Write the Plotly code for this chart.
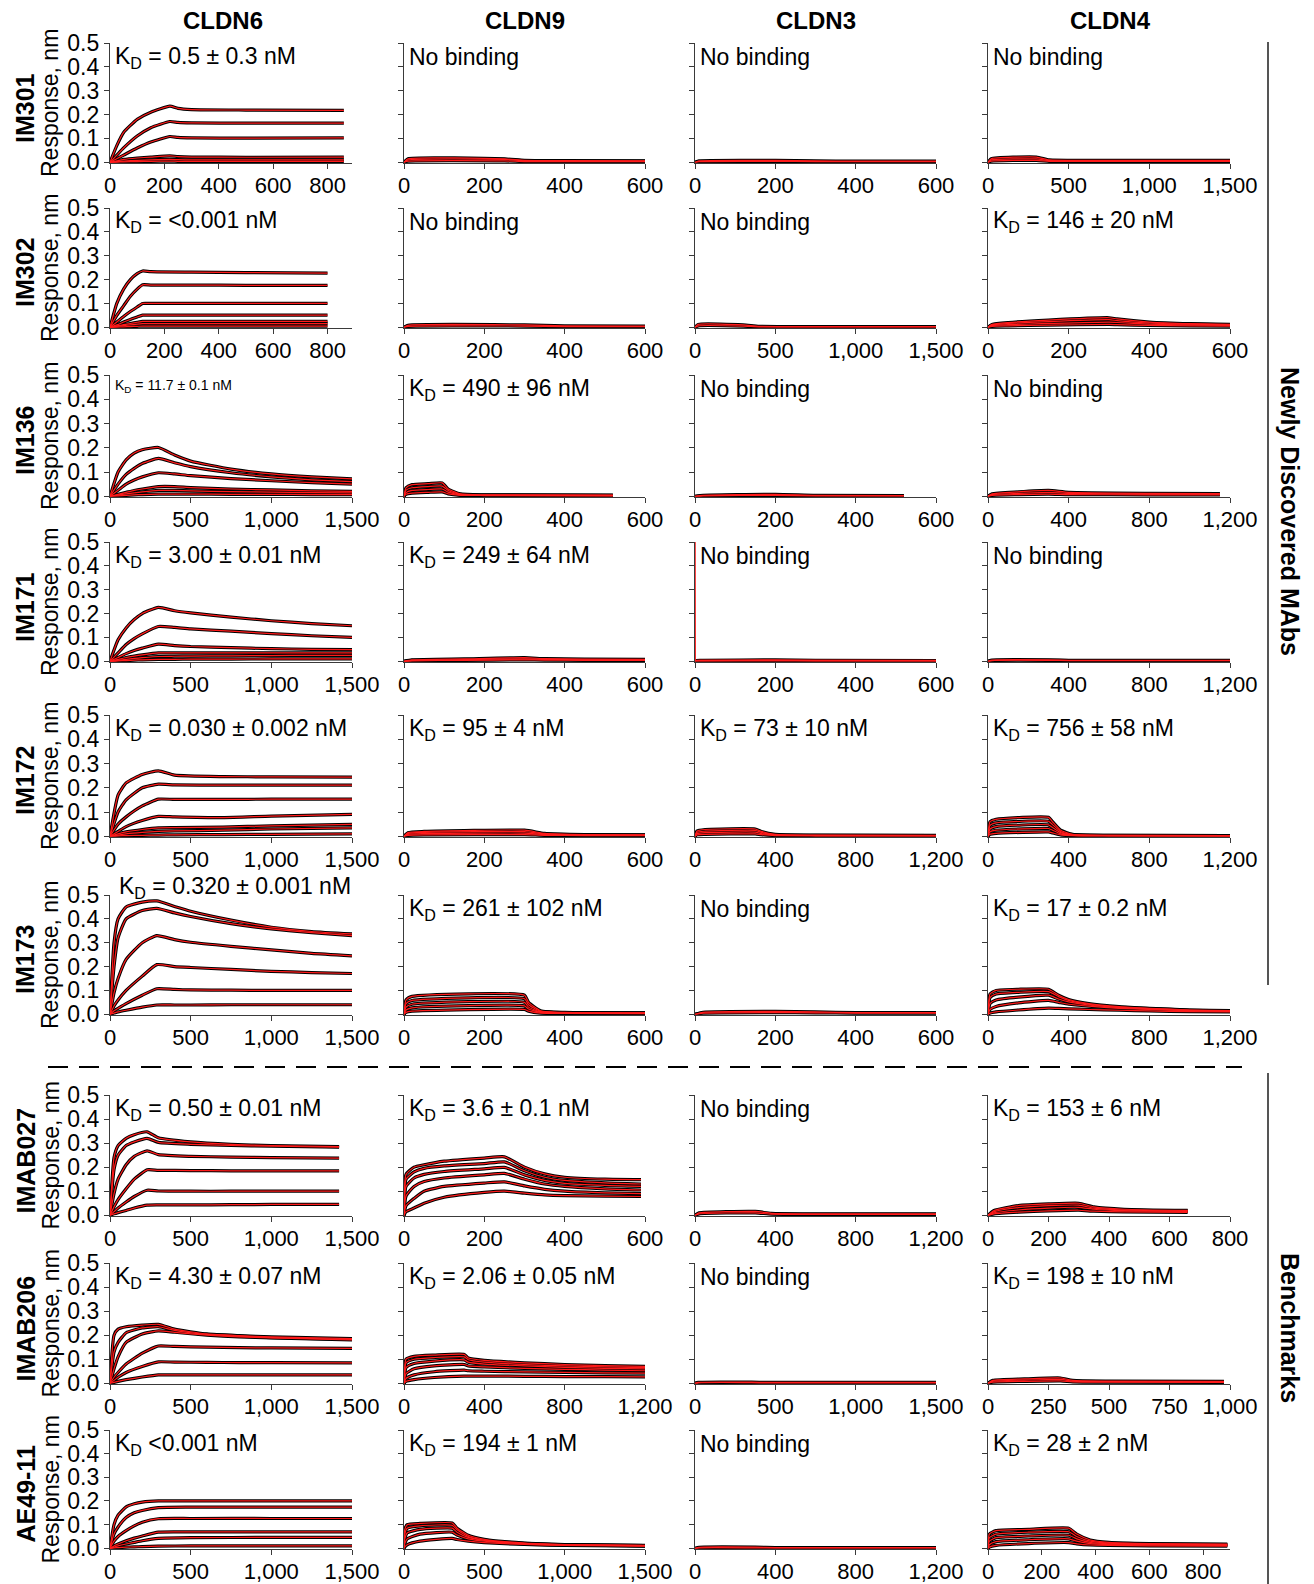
import plotly.graph_objects as go

W, H = 1314, 1584
FONT = "Liberation Sans, Arial, sans-serif"

ANTIBODIES = ["IM301", "IM302", "IM136", "IM171", "IM172", "IM173", "IMAB027", "IMAB206", "AE49-11"]
TARGETS = ["CLDN6", "CLDN9", "CLDN3", "CLDN4"]
GROUPS = ["Newly Discovered MAbs", "Benchmarks"]

KD_TEXT = [
    ["K<sub>D</sub> = 0.5 ± 0.3 nM", "No binding", "No binding", "No binding"],
    ["K<sub>D</sub> = <0.001 nM", "No binding", "No binding", "K<sub>D</sub> = 146 ± 20 nM"],
    ["K<sub>D</sub> = 11.7 ± 0.1 nM", "K<sub>D</sub> = 490 ± 96 nM", "No binding", "No binding"],
    ["K<sub>D</sub> = 3.00 ± 0.01 nM", "K<sub>D</sub> = 249 ± 64 nM", "No binding", "No binding"],
    ["K<sub>D</sub> = 0.030 ± 0.002 nM", "K<sub>D</sub> = 95 ± 4 nM", "K<sub>D</sub> = 73 ± 10 nM", "K<sub>D</sub> = 756 ± 58 nM"],
    ["K<sub>D</sub> = 0.320 ± 0.001 nM", "K<sub>D</sub> = 261 ± 102 nM", "No binding", "K<sub>D</sub> = 17 ± 0.2 nM"],
    ["K<sub>D</sub> = 0.50 ± 0.01 nM", "K<sub>D</sub> = 3.6 ± 0.1 nM", "No binding", "K<sub>D</sub> = 153 ± 6 nM"],
    ["K<sub>D</sub> = 4.30 ± 0.07 nM", "K<sub>D</sub> = 2.06 ± 0.05 nM", "No binding", "K<sub>D</sub> = 198 ± 10 nM"],
    ["K<sub>D</sub> <0.001 nM", "K<sub>D</sub> = 194 ± 1 nM", "No binding", "K<sub>D</sub> = 28 ± 2 nM"],
]

X_MAX = [
    [890, 600, 600, 1500],
    [890, 600, 1500, 600],
    [1500, 600, 600, 1200],
    [1500, 600, 600, 1200],
    [1500, 600, 1200, 1200],
    [1500, 600, 600, 1200],
    [1500, 600, 1200, 800],
    [1500, 1200, 1500, 1000],
    [1500, 1500, 1200, 900],
]

X_STEP = [
    [200, 200, 200, 500],
    [200, 200, 500, 200],
    [500, 200, 200, 400],
    [500, 200, 200, 400],
    [500, 200, 400, 400],
    [500, 200, 200, 400],
    [500, 200, 400, 200],
    [500, 400, 500, 250],
    [500, 500, 400, 200],
]

Y_TICKS = [0.0, 0.1, 0.2, 0.3, 0.4, 0.5]
Y_TICK_LABELS = ["0.0", "0.1", "0.2", "0.3", "0.4", "0.5"]

# ---------------- sensorgram key points (time s, response nm) ----------------
P11_T = [0, 25, 50, 100, 150, 220, 250, 300, 500, 860]
P11_Y = [
    [0, 0.07, 0.125, 0.18, 0.21, 0.235, 0.226, 0.221, 0.219, 0.218],
    [0, 0.03, 0.06, 0.11, 0.145, 0.171, 0.167, 0.165, 0.164, 0.164],
    [0, 0.015, 0.03, 0.06, 0.085, 0.108, 0.104, 0.102, 0.101, 0.102],
    [0, 0.006, 0.012, 0.018, 0.022, 0.027, 0.024, 0.022, 0.021, 0.022],
    [0, 0.003, 0.005, 0.008, 0.01, 0.012, 0.011, 0.01, 0.01, 0.01],
    [0, 0.001, 0.002, 0.003, 0.004, 0.005, 0.004, 0.004, 0.004, 0.004],
]
P12_T = [0, 10, 250, 300, 400, 600]
P12_Y = [
    [0, 0.015, 0.014, 0.008, 0.007, 0.006],
    [0, 0.01, 0.012, 0.006, 0.005, 0.005],
    [0, 0.005, 0.006, 0.003, 0.003, 0.003],
]
P13_T = [0, 10, 200, 300, 400, 600]
P13_Y = [
    [0, 0.006, 0.008, 0.006, 0.005, 0.005],
    [0, 0.003, 0.004, 0.003, 0.003, 0.003],
]
P14_T = [0, 20, 300, 380, 600, 1000, 1500]
P14_Y = [
    [0, 0.015, 0.022, 0.01, 0.008, 0.008, 0.008],
    [0, 0.01, 0.014, 0.007, 0.006, 0.006, 0.006],
    [0, 0.005, 0.008, 0.004, 0.004, 0.004, 0.004],
]

P21_T = [0, 25, 50, 75, 100, 120, 150, 300, 500, 800]
P21_Y = [
    [0, 0.1, 0.16, 0.2, 0.225, 0.236, 0.233, 0.231, 0.229, 0.227],
    [0, 0.05, 0.09, 0.13, 0.16, 0.178, 0.177, 0.177, 0.176, 0.176],
    [0, 0.022, 0.045, 0.066, 0.085, 0.1, 0.1, 0.1, 0.1, 0.1],
    [0, 0.01, 0.022, 0.033, 0.043, 0.051, 0.051, 0.051, 0.051, 0.051],
    [0, 0.006, 0.011, 0.016, 0.021, 0.025, 0.025, 0.025, 0.025, 0.025],
    [0, 0.004, 0.007, 0.01, 0.013, 0.015, 0.015, 0.015, 0.015, 0.015],
    [0, 0.001, 0.002, 0.003, 0.004, 0.005, 0.005, 0.005, 0.005, 0.005],
]
P22_T = [0, 10, 300, 400, 600]
P22_Y = [
    [0, 0.008, 0.01, 0.006, 0.005],
    [0, 0.004, 0.005, 0.003, 0.003],
]
P23_T = [0, 20, 300, 400, 800, 1500]
P23_Y = [
    [0, 0.012, 0.01, 0.004, 0.003, 0.003],
    [0, 0.006, 0.005, 0.002, 0.002, 0.002],
]
P24_T = [0, 10, 50, 150, 300, 320, 400, 500, 600]
P24_Y = [
    [0, 0.012, 0.02, 0.03, 0.04, 0.035, 0.022, 0.015, 0.012],
    [0, 0.01, 0.016, 0.024, 0.032, 0.028, 0.018, 0.013, 0.01],
    [0, 0.007, 0.011, 0.016, 0.022, 0.02, 0.013, 0.01, 0.008],
    [0, 0.004, 0.006, 0.009, 0.012, 0.011, 0.008, 0.006, 0.005],
]

P31_T = [0, 50, 100, 150, 200, 300, 400, 500, 750, 1000, 1250, 1500]
P31_Y = [
    [0, 0.1, 0.15, 0.178, 0.192, 0.201, 0.17, 0.145, 0.112, 0.092, 0.08, 0.072],
    [0, 0.05, 0.09, 0.115, 0.135, 0.156, 0.138, 0.122, 0.097, 0.08, 0.068, 0.06],
    [0, 0.025, 0.05, 0.067, 0.08, 0.097, 0.092, 0.085, 0.073, 0.064, 0.056, 0.05],
    [0, 0.008, 0.016, 0.024, 0.03, 0.04, 0.04, 0.036, 0.03, 0.026, 0.022, 0.02],
    [0, 0.005, 0.01, 0.014, 0.018, 0.024, 0.024, 0.022, 0.019, 0.017, 0.015, 0.014],
    [0, 0.002, 0.004, 0.006, 0.007, 0.009, 0.009, 0.009, 0.008, 0.008, 0.007, 0.007],
]
P32_T = [0, 5, 20, 60, 95, 110, 140, 200, 520]
P32_Y = [
    [0, 0.035, 0.048, 0.052, 0.055, 0.03, 0.01, 0.006, 0.005],
    [0, 0.025, 0.035, 0.04, 0.042, 0.024, 0.008, 0.005, 0.004],
    [0, 0.015, 0.024, 0.028, 0.03, 0.017, 0.006, 0.004, 0.003],
    [0, 0.008, 0.013, 0.016, 0.018, 0.01, 0.004, 0.003, 0.002],
]
P33_T = [0, 20, 200, 300, 520]
P33_Y = [
    [0, 0.004, 0.008, 0.004, 0.003],
    [0, 0.002, 0.004, 0.002, 0.002],
]
P34_T = [0, 20, 150, 300, 400, 800, 1150]
P34_Y = [
    [0, 0.01, 0.018, 0.024, 0.016, 0.012, 0.011],
    [0, 0.007, 0.012, 0.016, 0.012, 0.009, 0.009],
    [0, 0.004, 0.007, 0.009, 0.007, 0.006, 0.006],
]

P41_T = [0, 50, 100, 150, 200, 300, 400, 500, 750, 1000, 1250, 1500]
P41_Y = [
    [0, 0.09, 0.14, 0.175, 0.2, 0.226, 0.212, 0.203, 0.185, 0.17, 0.158, 0.149],
    [0, 0.035, 0.07, 0.095, 0.115, 0.146, 0.142, 0.136, 0.126, 0.116, 0.107, 0.1],
    [0, 0.016, 0.032, 0.045, 0.055, 0.072, 0.066, 0.062, 0.057, 0.053, 0.05, 0.049],
    [0, 0.008, 0.016, 0.022, 0.027, 0.035, 0.035, 0.035, 0.035, 0.035, 0.035, 0.035],
    [0, 0.004, 0.008, 0.012, 0.015, 0.02, 0.021, 0.022, 0.023, 0.024, 0.025, 0.025],
    [0, 0.002, 0.003, 0.005, 0.006, 0.008, 0.008, 0.009, 0.009, 0.01, 0.01, 0.01],
]
P42_T = [0, 20, 150, 300, 350, 450, 600]
P42_Y = [
    [0, 0.006, 0.01, 0.015, 0.011, 0.009, 0.008],
    [0, 0.004, 0.007, 0.01, 0.008, 0.006, 0.006],
    [0, 0.002, 0.004, 0.006, 0.005, 0.004, 0.004],
]
P43_T = [0, 1, 3, 20, 200, 300, 600]
P43_Y = [
    [0, 0.003, 0.003, 0.004, 0.006, 0.004, 0.003],
    [0, 0.002, 0.002, 0.002, 0.003, 0.002, 0.002],
]
P43_FIT_T = [0, 0.5, 3, 600]
P43_FIT_Y = [0.5, 0.004, 0.003, 0.003]
P44_T = [0, 20, 300, 400, 1200]
P44_Y = [
    [0, 0.005, 0.006, 0.004, 0.004],
    [0, 0.003, 0.004, 0.003, 0.003],
]

P51_T = [0, 50, 100, 200, 300, 400, 700, 1000, 1500]
P51_Y = [
    [0, 0.17, 0.22, 0.255, 0.27, 0.252, 0.246, 0.245, 0.244],
    [0, 0.1, 0.15, 0.2, 0.215, 0.212, 0.211, 0.211, 0.211],
    [0, 0.05, 0.08, 0.125, 0.153, 0.152, 0.152, 0.153, 0.153],
    [0, 0.02, 0.04, 0.065, 0.082, 0.08, 0.077, 0.083, 0.09],
    [0, 0.01, 0.018, 0.028, 0.035, 0.036, 0.038, 0.043, 0.049],
    [0, 0.005, 0.01, 0.016, 0.02, 0.022, 0.025, 0.03, 0.035],
    [0, 0.002, 0.003, 0.004, 0.005, 0.006, 0.007, 0.008, 0.01],
]
P52_T = [0, 10, 50, 300, 350, 450, 600]
P52_Y = [
    [0, 0.015, 0.02, 0.025, 0.012, 0.007, 0.006],
    [0, 0.012, 0.016, 0.019, 0.01, 0.006, 0.005],
    [0, 0.008, 0.011, 0.013, 0.007, 0.004, 0.004],
    [0, 0.004, 0.006, 0.007, 0.004, 0.003, 0.003],
]
P53_T = [0, 10, 50, 300, 330, 400, 600, 1200]
P53_Y = [
    [0, 0.022, 0.028, 0.03, 0.02, 0.008, 0.005, 0.004],
    [0, 0.017, 0.021, 0.024, 0.016, 0.006, 0.004, 0.003],
    [0, 0.011, 0.015, 0.017, 0.011, 0.005, 0.003, 0.003],
    [0, 0.006, 0.008, 0.01, 0.007, 0.003, 0.002, 0.002],
]
P54_T = [0, 10, 40, 300, 320, 360, 420, 600, 1200]
P54_Y = [
    [0, 0.06, 0.07, 0.078, 0.06, 0.025, 0.008, 0.004, 0.003],
    [0, 0.045, 0.055, 0.062, 0.048, 0.02, 0.007, 0.004, 0.003],
    [0, 0.03, 0.04, 0.047, 0.036, 0.015, 0.005, 0.003, 0.003],
    [0, 0.018, 0.025, 0.032, 0.025, 0.01, 0.004, 0.003, 0.002],
    [0, 0.008, 0.012, 0.018, 0.014, 0.006, 0.003, 0.002, 0.002],
]

P61_T = [0, 25, 50, 100, 200, 290, 400, 500, 750, 1000, 1250, 1500]
P61_Y = [
    [0, 0.3, 0.4, 0.45, 0.47, 0.475, 0.452, 0.432, 0.395, 0.365, 0.347, 0.337],
    [0, 0.2, 0.32, 0.4, 0.435, 0.444, 0.425, 0.41, 0.38, 0.358, 0.342, 0.33],
    [0, 0.09, 0.15, 0.23, 0.3, 0.33, 0.313, 0.302, 0.285, 0.27, 0.255, 0.245],
    [0, 0.035, 0.06, 0.1, 0.16, 0.208, 0.2, 0.196, 0.188, 0.18, 0.175, 0.171],
    [0, 0.015, 0.025, 0.045, 0.08, 0.107, 0.104, 0.102, 0.101, 0.1, 0.1, 0.1],
    [0, 0.005, 0.01, 0.017, 0.03, 0.039, 0.039, 0.039, 0.04, 0.04, 0.04, 0.04],
]
P62_T = [0, 5, 20, 300, 310, 340, 400, 600]
P62_Y = [
    [0, 0.06, 0.075, 0.08, 0.05, 0.015, 0.008, 0.006],
    [0, 0.045, 0.058, 0.065, 0.04, 0.012, 0.007, 0.005],
    [0, 0.03, 0.042, 0.05, 0.03, 0.01, 0.006, 0.005],
    [0, 0.018, 0.027, 0.035, 0.022, 0.008, 0.005, 0.004],
    [0, 0.008, 0.013, 0.02, 0.013, 0.005, 0.004, 0.003],
]
P63_T = [0, 20, 200, 300, 400, 600]
P63_Y = [
    [0, 0.008, 0.012, 0.01, 0.007, 0.007],
    [0, 0.005, 0.007, 0.006, 0.005, 0.005],
]
P64_T = [0, 10, 40, 150, 300, 350, 400, 500, 650, 800, 1000, 1200]
P64_Y = [
    [0, 0.085, 0.1, 0.105, 0.105, 0.08, 0.062, 0.045, 0.032, 0.025, 0.018, 0.015],
    [0, 0.07, 0.085, 0.092, 0.095, 0.074, 0.058, 0.042, 0.03, 0.024, 0.017, 0.014],
    [0, 0.045, 0.06, 0.072, 0.08, 0.064, 0.052, 0.039, 0.028, 0.022, 0.016, 0.013],
    [0, 0.02, 0.033, 0.048, 0.058, 0.05, 0.042, 0.034, 0.025, 0.02, 0.015, 0.012],
    [0, 0.005, 0.01, 0.018, 0.026, 0.025, 0.023, 0.02, 0.017, 0.014, 0.011, 0.01],
]

P71_T = [0, 25, 50, 100, 150, 230, 300, 500, 750, 1000, 1420]
P71_Y = [
    [0, 0.24, 0.29, 0.32, 0.335, 0.347, 0.322, 0.305, 0.295, 0.29, 0.285],
    [0, 0.19, 0.25, 0.29, 0.305, 0.32, 0.303, 0.295, 0.29, 0.287, 0.283],
    [0, 0.09, 0.15, 0.21, 0.245, 0.268, 0.252, 0.245, 0.242, 0.24, 0.238],
    [0, 0.035, 0.065, 0.11, 0.15, 0.189, 0.187, 0.186, 0.185, 0.185, 0.185],
    [0, 0.015, 0.03, 0.055, 0.078, 0.104, 0.101, 0.1, 0.1, 0.1, 0.1],
    [0, 0.006, 0.011, 0.02, 0.03, 0.042, 0.043, 0.043, 0.044, 0.045, 0.045],
]
P72_T = [0, 5, 25, 50, 100, 200, 250, 300, 350, 400, 500, 590]
P72_Y = [
    [0, 0.17, 0.2, 0.21, 0.225, 0.238, 0.243, 0.2, 0.172, 0.158, 0.15, 0.148],
    [0, 0.15, 0.18, 0.195, 0.205, 0.215, 0.222, 0.185, 0.158, 0.145, 0.135, 0.13],
    [0, 0.12, 0.155, 0.17, 0.182, 0.193, 0.199, 0.168, 0.145, 0.133, 0.124, 0.12],
    [0, 0.08, 0.12, 0.14, 0.155, 0.168, 0.174, 0.15, 0.13, 0.12, 0.11, 0.105],
    [0, 0.04, 0.07, 0.1, 0.12, 0.134, 0.139, 0.122, 0.108, 0.1, 0.093, 0.09],
    [0, 0.015, 0.03, 0.05, 0.075, 0.095, 0.1, 0.092, 0.085, 0.082, 0.08, 0.078],
]
P73_T = [0, 20, 300, 380, 600, 1200]
P73_Y = [
    [0, 0.01, 0.016, 0.008, 0.006, 0.006],
    [0, 0.006, 0.01, 0.005, 0.004, 0.004],
]
P74_T = [0, 20, 100, 200, 300, 350, 450, 660]
P74_Y = [
    [0, 0.02, 0.04, 0.047, 0.05, 0.035, 0.025, 0.02],
    [0, 0.015, 0.032, 0.04, 0.042, 0.03, 0.022, 0.018],
    [0, 0.01, 0.022, 0.03, 0.033, 0.025, 0.019, 0.016],
    [0, 0.006, 0.013, 0.018, 0.021, 0.017, 0.014, 0.012],
]

P81_T = [0, 25, 50, 100, 200, 300, 400, 600, 800, 1000, 1500]
P81_Y = [
    [0, 0.2, 0.225, 0.235, 0.242, 0.245, 0.225, 0.205, 0.198, 0.193, 0.186],
    [0, 0.13, 0.17, 0.21, 0.23, 0.235, 0.22, 0.203, 0.196, 0.19, 0.182],
    [0, 0.06, 0.11, 0.17, 0.205, 0.218, 0.212, 0.2, 0.193, 0.189, 0.18],
    [0, 0.025, 0.045, 0.08, 0.125, 0.155, 0.153, 0.15, 0.148, 0.147, 0.145],
    [0, 0.012, 0.025, 0.045, 0.07, 0.089, 0.088, 0.087, 0.086, 0.086, 0.085],
    [0, 0.004, 0.008, 0.015, 0.026, 0.035, 0.035, 0.035, 0.035, 0.035, 0.035],
]
P82_T = [0, 10, 50, 150, 300, 320, 400, 600, 800, 1000, 1200]
P82_Y = [
    [0, 0.1, 0.112, 0.117, 0.12, 0.105, 0.095, 0.085, 0.078, 0.073, 0.07],
    [0, 0.085, 0.1, 0.107, 0.11, 0.098, 0.088, 0.078, 0.072, 0.068, 0.065],
    [0, 0.065, 0.082, 0.092, 0.097, 0.088, 0.08, 0.072, 0.066, 0.062, 0.06],
    [0, 0.04, 0.06, 0.072, 0.078, 0.072, 0.068, 0.062, 0.058, 0.055, 0.052],
    [0, 0.02, 0.035, 0.048, 0.055, 0.052, 0.05, 0.047, 0.045, 0.043, 0.042],
    [0, 0.008, 0.015, 0.024, 0.03, 0.03, 0.03, 0.029, 0.028, 0.028, 0.027],
]
P83_T = [0, 20, 300, 400, 1500]
P83_Y = [
    [0, 0.004, 0.005, 0.004, 0.004],
    [0, 0.002, 0.003, 0.002, 0.002],
]
P84_T = [0, 20, 150, 300, 350, 500, 975]
P84_Y = [
    [0, 0.012, 0.018, 0.022, 0.012, 0.009, 0.008],
    [0, 0.009, 0.013, 0.016, 0.009, 0.007, 0.006],
    [0, 0.005, 0.008, 0.01, 0.006, 0.005, 0.004],
]

P91_T = [0, 25, 50, 100, 150, 200, 300, 500, 1000, 1500]
P91_Y = [
    [0, 0.1, 0.14, 0.175, 0.188, 0.195, 0.2, 0.2, 0.2, 0.2],
    [0, 0.06, 0.09, 0.13, 0.15, 0.16, 0.172, 0.174, 0.174, 0.174],
    [0, 0.03, 0.05, 0.075, 0.095, 0.11, 0.125, 0.126, 0.126, 0.126],
    [0, 0.01, 0.018, 0.032, 0.043, 0.052, 0.068, 0.069, 0.069, 0.069],
    [0, 0.005, 0.01, 0.018, 0.025, 0.032, 0.042, 0.045, 0.046, 0.046],
    [0, 0.002, 0.003, 0.005, 0.006, 0.007, 0.009, 0.01, 0.01, 0.01],
]
P92_T = [0, 5, 20, 100, 300, 330, 400, 500, 750, 1000, 1500]
P92_Y = [
    [0, 0.08, 0.1, 0.105, 0.107, 0.085, 0.055, 0.038, 0.022, 0.016, 0.012],
    [0, 0.06, 0.085, 0.095, 0.097, 0.078, 0.05, 0.035, 0.021, 0.015, 0.011],
    [0, 0.04, 0.065, 0.08, 0.085, 0.068, 0.046, 0.033, 0.02, 0.015, 0.011],
    [0, 0.02, 0.04, 0.06, 0.068, 0.056, 0.04, 0.03, 0.019, 0.014, 0.01],
    [0, 0.006, 0.015, 0.03, 0.042, 0.037, 0.03, 0.024, 0.016, 0.012, 0.009],
]
P93_T = [0, 20, 300, 400, 1200]
P93_Y = [
    [0, 0.004, 0.005, 0.003, 0.003],
    [0, 0.002, 0.002, 0.002, 0.002],
]
P94_T = [0, 5, 30, 150, 300, 330, 380, 450, 600, 890]
P94_Y = [
    [0, 0.06, 0.075, 0.08, 0.085, 0.06, 0.035, 0.025, 0.02, 0.018],
    [0, 0.045, 0.06, 0.068, 0.07, 0.05, 0.03, 0.022, 0.018, 0.016],
    [0, 0.03, 0.045, 0.052, 0.055, 0.04, 0.025, 0.019, 0.016, 0.014],
    [0, 0.015, 0.028, 0.036, 0.04, 0.03, 0.02, 0.016, 0.014, 0.012],
    [0, 0.005, 0.012, 0.02, 0.024, 0.019, 0.014, 0.012, 0.01, 0.009],
]

PANELS = [
    [(P11_T, P11_Y), (P12_T, P12_Y), (P13_T, P13_Y), (P14_T, P14_Y)],
    [(P21_T, P21_Y), (P22_T, P22_Y), (P23_T, P23_Y), (P24_T, P24_Y)],
    [(P31_T, P31_Y), (P32_T, P32_Y), (P33_T, P33_Y), (P34_T, P34_Y)],
    [(P41_T, P41_Y), (P42_T, P42_Y), (P43_T, P43_Y), (P44_T, P44_Y)],
    [(P51_T, P51_Y), (P52_T, P52_Y), (P53_T, P53_Y), (P54_T, P54_Y)],
    [(P61_T, P61_Y), (P62_T, P62_Y), (P63_T, P63_Y), (P64_T, P64_Y)],
    [(P71_T, P71_Y), (P72_T, P72_Y), (P73_T, P73_Y), (P74_T, P74_Y)],
    [(P81_T, P81_Y), (P82_T, P82_Y), (P83_T, P83_Y), (P84_T, P84_Y)],
    [(P91_T, P91_Y), (P92_T, P92_Y), (P93_T, P93_Y), (P94_T, P94_Y)],
]
EXTRA_FITS = {(3, 2): (P43_FIT_T, P43_FIT_Y)}

# ---------------- layout geometry (pixels) ----------------
ROW_TOP = [43, 208, 375, 542, 715, 895, 1095, 1263, 1430]
ROW_BOT = [163, 328, 497, 662, 837, 1015, 1216, 1384, 1549]
COL_LEFT = [110, 404, 695, 988]
COL_RIGHT = [352, 645, 936, 1230]


def px(x):
    return x / W


def py(y):
    return 1 - y / H


fig = go.Figure()
layout = dict(
    width=W, height=H, autosize=False,
    margin=dict(l=0, r=0, t=0, b=0, pad=0, autoexpand=False),
    paper_bgcolor="white", plot_bgcolor="white",
    showlegend=False,
    font=dict(family=FONT, color="black"),
)
annotations = []
AX = "#3a3a3a"

for r in range(9):
    for c in range(4):
        i = r * 4 + c + 1
        xs = "" if i == 1 else str(i)
        T, Ys = PANELS[r][c]
        for yv in Ys:
            fig.add_trace(go.Scatter(x=T, y=yv, mode="lines",
                                     line=dict(color="black", width=3.2, shape="spline", smoothing=0.5),
                                     xaxis="x" + xs, yaxis="y" + xs, hoverinfo="skip"))
        for yv in Ys:
            fig.add_trace(go.Scatter(x=T, y=yv, mode="lines",
                                     line=dict(color="#ff1a1a", width=1.2, shape="spline", smoothing=0.5),
                                     xaxis="x" + xs, yaxis="y" + xs, hoverinfo="skip"))
        if (r, c) in EXTRA_FITS:
            ft, fy = EXTRA_FITS[(r, c)]
            fig.add_trace(go.Scatter(x=ft, y=fy, mode="lines",
                                     line=dict(color="#ff1a1a", width=1.5),
                                     xaxis="x" + xs, yaxis="y" + xs, hoverinfo="skip"))
        xmax = X_MAX[r][c]
        step = X_STEP[r][c]
        tv = list(range(0, xmax + 1, step))
        tt = [f"{v:,}" for v in tv]
        layout["xaxis" + xs] = dict(
            domain=[px(COL_LEFT[c]), px(COL_RIGHT[c])], anchor="y" + xs,
            range=[0, xmax], showgrid=False, zeroline=False, automargin=False,
            showline=True, linecolor=AX, linewidth=1.3,
            ticks="outside", ticklen=5, tickcolor=AX, tickwidth=1.3,
            ticklabelstandoff=-3,
            tickvals=tv, ticktext=tt, tickfont=dict(size=22, family=FONT, color="black"),
        )
        layout["yaxis" + xs] = dict(
            domain=[py(ROW_BOT[r]), py(ROW_TOP[r])], anchor="x" + xs,
            range=[-0.003, 0.5], showgrid=False, zeroline=False, automargin=False,
            showline=True, linecolor=AX, linewidth=1.3,
            ticks="outside", ticklen=5, tickcolor=AX, tickwidth=1.3,
            tickvals=Y_TICKS, ticktext=Y_TICK_LABELS, showticklabels=(c == 0),
            tickfont=dict(size=23, family=FONT, color="black"),
        )
        # KD annotation
        size = 23
        ax_x = COL_LEFT[c] + 3
        ay = ROW_TOP[r] + 14
        if r == 2 and c == 0:
            size = 14
            ax_x = COL_LEFT[c] + 3
            ay = ROW_TOP[r] + 11
        if r == 5 and c == 0:
            ax_x = COL_LEFT[c] + 7
            ay = ROW_TOP[r] - 7
        annotations.append(dict(text=KD_TEXT[r][c], x=px(ax_x), y=py(ay), xref="paper", yref="paper",
                                xanchor="left", yanchor="middle", showarrow=False,
                                font=dict(size=size, family=FONT, color="black")))
    # row labels
    cy = (ROW_TOP[r] + ROW_BOT[r]) / 2
    annotations.append(dict(text="<b>" + ANTIBODIES[r] + "</b>", x=px(25), y=py(cy + 5), xref="paper", yref="paper",
                            xanchor="center", yanchor="middle", textangle=-90, showarrow=False,
                            font=dict(size=25, family=FONT, color="black")))
    annotations.append(dict(text="Response, nm", x=px(50), y=py(cy), xref="paper", yref="paper",
                            xanchor="center", yanchor="middle", textangle=-90, showarrow=False,
                            font=dict(size=23, family=FONT, color="black")))

HEADER_X = [223, 525, 816, 1110]
for c in range(4):
    annotations.append(dict(text="<b>" + TARGETS[c] + "</b>", x=px(HEADER_X[c]), y=py(20), xref="paper", yref="paper",
                            xanchor="center", yanchor="middle", showarrow=False,
                            font=dict(size=24, family=FONT, color="black")))

annotations.append(dict(text="<b>" + GROUPS[0] + "</b>", x=px(1290), y=py(511), xref="paper", yref="paper",
                        xanchor="center", yanchor="middle", textangle=90, showarrow=False,
                        font=dict(size=25, family=FONT, color="black")))
annotations.append(dict(text="<b>" + GROUPS[1] + "</b>", x=px(1290), y=py(1328), xref="paper", yref="paper",
                        xanchor="center", yanchor="middle", textangle=90, showarrow=False,
                        font=dict(size=25, family=FONT, color="black")))

shapes = [
    dict(type="line", xref="paper", yref="paper", x0=px(1268), x1=px(1268), y0=py(42), y1=py(985),
         line=dict(color="#555555", width=2)),
    dict(type="line", xref="paper", yref="paper", x0=px(1268), x1=px(1268), y0=py(1073), y1=py(1584),
         line=dict(color="#555555", width=2)),
    dict(type="line", xref="paper", yref="paper", x0=px(48), x1=px(1242), y0=py(1067), y1=py(1067),
         line=dict(color="black", width=2, dash="20px,11px")),
]

layout["annotations"] = annotations
layout["shapes"] = shapes
fig.update_layout(**layout)
fig.write_html(
    "out.html",
    config={"displayModeBar": False},
    post_script="document.body.style.margin='0';document.body.style.padding='0';"
                "document.documentElement.style.overflow='hidden';document.body.style.overflow='hidden';",
)
